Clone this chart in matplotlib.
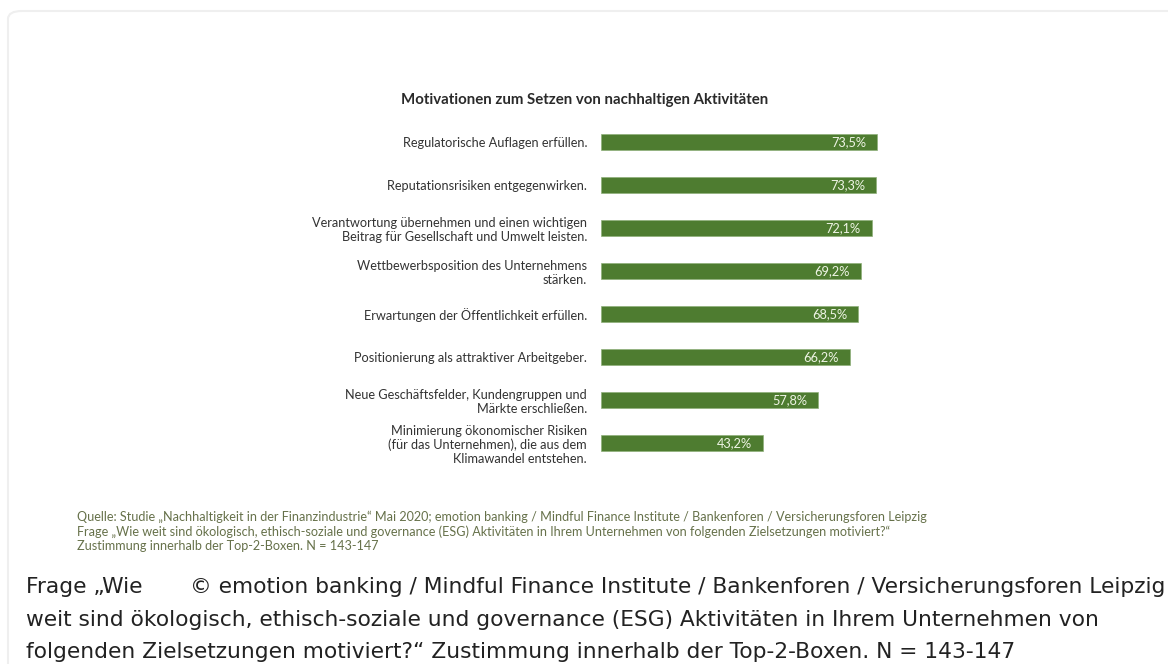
import matplotlib.pyplot as plt
from matplotlib.patches import FancyBboxPatch

W, H = 1168, 664
BAR_COLOR = "#4e7c30"
SOURCE_COLOR = "#66714a"

labels = [
    "Regulatorische Auflagen erfüllen.",
    "Reputationsrisiken entgegenwirken.",
    "Verantwortung übernehmen und einen wichtigen\nBeitrag für Gesellschaft und Umwelt leisten.",
    "Wettbewerbsposition des Unternehmens\nstärken.",
    "Erwartungen der Öffentlichkeit erfüllen.",
    "Positionierung als attraktiver Arbeitgeber.",
    "Neue Geschäftsfelder, Kundengruppen und\nMärkte erschließen.",
    "Minimierung ökonomischer Risiken\n(für das Unternehmen), die aus dem\nKlimawandel entstehen.",
]
values = [73.5, 73.3, 72.1, 69.2, 68.5, 66.2, 57.8, 43.2]

title = "Motivationen zum Setzen von nachhaltigen Aktivitäten"
source_lines = [
    "Quelle: Studie „Nachhaltigkeit in der Finanzindustrie“ Mai 2020; emotion banking / Mindful Finance Institute / Bankenforen / Versicherungsforen Leipzig",
    "Frage „Wie weit sind ökologisch, ethisch-soziale und governance (ESG) Aktivitäten in Ihrem Unternehmen von folgenden Zielsetzungen motiviert?“",
    "Zustimmung innerhalb der Top-2-Boxen. N = 143-147",
]
caption_left = [
    "Frage „Wie",
    "weit sind ökologisch, ethisch-soziale und governance (ESG) Aktivitäten in Ihrem Unternehmen von",
    "folgenden Zielsetzungen motiviert?“ Zustimmung innerhalb der Top-2-Boxen. N = 143-147",
]
caption_right = "© emotion banking / Mindful Finance Institute / Bankenforen / Versicherungsforen Leipzig"


def fx(px):
    return px / W


def fy(px):
    return 1 - px / H


fig = plt.figure(figsize=(W / 100, H / 100), dpi=100)

# light frame of the embedded picture
frame = FancyBboxPatch((fx(8), fy(700)), fx(1200), 689 / H,
                       boxstyle="round,pad=0,rounding_size=0.012",
                       transform=fig.transFigure, facecolor="none",
                       edgecolor="#efefef", linewidth=1.5, zorder=-1)
fig.patches.append(frame)

# bar axes: 0 % at x=601, 3.755 px per %, bars every 43 px from y=142
ax = fig.add_axes([fx(601), fy(464.5), 375.5 / W, 344 / H])
pos = list(range(len(values)))
ax.barh(pos, values, height=0.35, color=BAR_COLOR, edgecolor="#8fb07a", linewidth=0.5)
ax.set_xlim(0, 100)
ax.set_ylim(len(values) - 0.5, -0.5)
ax.set_yticks(pos)
ax.set_yticklabels(labels, fontsize=9.2, family="Lato", color="#333333")
for t in ax.get_yticklabels():
    t.set_linespacing(1.2)
ax.tick_params(axis="y", length=0, pad=10)
ax.set_xticks([])
for s in ax.spines.values():
    s.set_visible(False)
ax.patch.set_alpha(0)

for i, v in enumerate(values):
    ax.text(v - 2.9, i, f"{v:.1f}%".replace(".", ","), ha="right", va="center",
            fontsize=9.2, family="Lato", color="#eef4e4")

fig.text(fx(585), fy(100), title, ha="center", va="center", fontsize=10.8,
         family="Lato", fontweight="bold", color="#2a2a2a")

for k, line in enumerate(source_lines):
    fig.text(fx(77), fy(517 + 14.5 * k), line, ha="left", va="center",
             fontsize=9.1, family="Lato", color=SOURCE_COLOR)

for k, line in enumerate(caption_left):
    fig.text(fx(26), fy(587 + 32.5 * k), line, ha="left", va="center",
             fontsize=15.7, family="DejaVu Sans", color="#222222")
fig.text(fx(1165), fy(587), caption_right, ha="right", va="center",
         fontsize=15.7, family="DejaVu Sans", color="#222222")

fig.savefig("out.png", dpi=100)
